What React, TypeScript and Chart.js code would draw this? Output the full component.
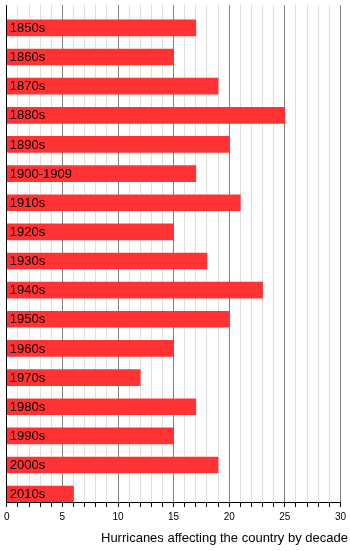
import React, { useEffect, useRef } from "react";
import { Chart, registerables } from "chart.js";

Chart.register(...registerables);

const decades = [
  "1850s", "1860s", "1870s", "1880s", "1890s", "1900-1909", "1910s", "1920s",
  "1930s", "1940s", "1950s", "1960s", "1970s", "1980s", "1990s", "2000s", "2010s",
];
const hurricanes = [17, 15, 19, 25, 20, 17, 21, 15, 18, 23, 20, 15, 12, 17, 15, 19, 6];
const xMin = 0;
const xMax = 30;
const majorStep = 5;
const axisTitle = "Hurricanes affecting the country by decade";

const FONT = "'Liberation Sans', Arial, Helvetica, sans-serif";

export default function App() {
  const ref = useRef<HTMLCanvasElement>(null);

  useEffect(() => {
    const labelPlugin = {
      id: "barLabels",
      afterDatasetsDraw(chart: any) {
        const ctx = chart.ctx;
        const meta = chart.getDatasetMeta(0);
        ctx.save();
        ctx.font = `13px ${FONT}`;
        ctx.fillStyle = "#000";
        ctx.textAlign = "left";
        ctx.textBaseline = "middle";
        meta.data.forEach((el: any, i: number) => {
          ctx.fillText(decades[i], chart.chartArea.left + 3, el.y + 0.5);
        });
        ctx.restore();
      },
      afterDraw(chart: any) {
        const ctx = chart.ctx;
        ctx.save();
        ctx.font = `13px ${FONT}`;
        ctx.fillStyle = "#000";
        ctx.textAlign = "left";
        ctx.textBaseline = "alphabetic";
        ctx.fillText(axisTitle, 101, 542);
        ctx.restore();
      },
    };

    const chart = new Chart(ref.current as HTMLCanvasElement, {
      type: "bar",
      data: {
        datasets: [
          {
            data: hurricanes.map((v, i) => ({ x: v, y: i })),
            backgroundColor: "#ff3333",
            borderWidth: 0,
            barThickness: 16,
          },
        ],
      },
      options: {
        indexAxis: "y",
        animation: false,
        responsive: false,
        devicePixelRatio: 1,
        layout: { padding: { left: 5, right: 9.5, top: 5, bottom: 0 } },
        plugins: {
          legend: { display: false },
          tooltip: { enabled: false },
        },
        scales: {
          x: {
            type: "linear",
            position: "bottom",
            min: xMin,
            max: xMax,
            ticks: {
              stepSize: 1,
              autoSkip: false,
              maxRotation: 0,
              padding: 4,
              color: "#000",
              font: { family: FONT, size: 10 },
              callback: (v: any) => (Number(v) % majorStep === 0 ? String(v) : ""),
            },
            grid: {
              color: (c: any) =>
                c.tick && c.tick.value === 0
                  ? "#000"
                  : c.tick && c.tick.value % majorStep === 0
                  ? "#808080"
                  : "#dedede",
              tickColor: "#000",
              tickLength: 5,
              lineWidth: 1,
            },
            border: { color: "#000", width: 1 },
            afterFit(scale: any) {
              scale.height = 49;
            },
          },
          y: {
            type: "linear",
            display: false,
            offset: false,
            reverse: true,
            min: -0.785,
            max: 16.27,
          },
        },
      },
      plugins: [labelPlugin],
    } as any);

    return () => chart.destroy();
  }, []);

  return (
    <div style={{ position: "absolute", left: 0, top: 0, width: 350, height: 551 }}>
      <canvas ref={ref} width={350} height={551} style={{ display: "block", width: 350, height: 551 }} />
    </div>
  );
}
